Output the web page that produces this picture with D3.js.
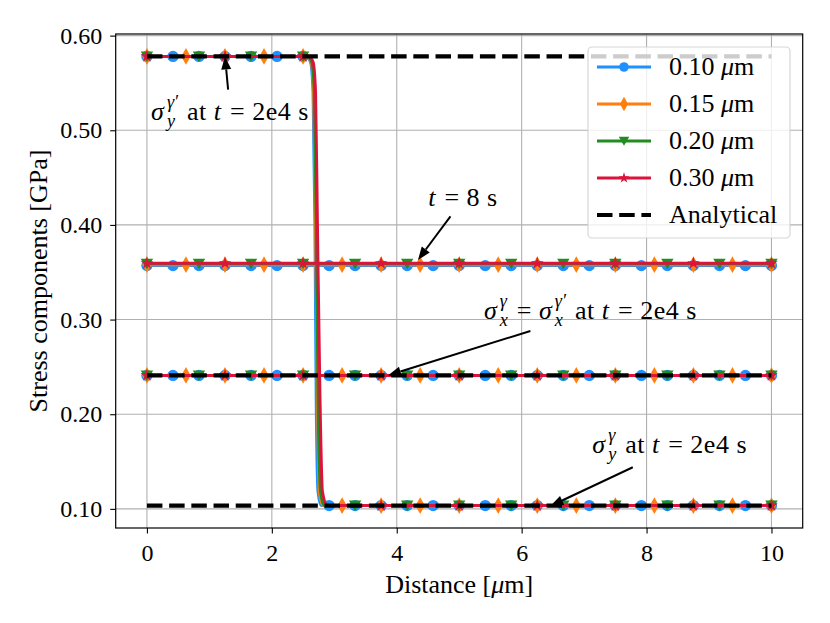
<!DOCTYPE html>
<html>
<head>
<meta charset="utf-8">
<script src="https://cdn.jsdelivr.net/npm/d3@7/dist/d3.min.js"></script>
<style>
  body { margin: 0; background: #fff; }
  svg { display: block; }
  text { font-family: "Liberation Serif", "DejaVu Serif", serif; fill: #000; }
</style>
</head>
<body>
<div id="chart"></div>
<script>
// ---- data ----
const sizes = ["0.10", "0.15", "0.20", "0.30"];
const colors = ["#1e90ff", "#ff7f0e", "#228b22", "#dc143c"];
const shapes = ["circle", "diamond", "triangle", "star"];

// marker positions (markevery on each mesh)
const markX010 = [0, 0.417, 0.833, 1.25, 1.667, 2.083, 2.5, 2.917, 3.333, 3.75, 4.167, 4.583, 5,
                  5.417, 5.833, 6.25, 6.667, 7.083, 7.5, 7.917, 8.333, 8.75, 9.167, 9.583, 10];
const markX015 = [0, 0.625, 1.25, 1.875, 2.5, 3.125, 3.75, 4.375, 5, 5.625, 6.25, 6.875, 7.5,
                  8.125, 8.75, 9.375, 10];
const markX020 = [0, 0.833, 1.667, 2.5, 3.333, 4.167, 5, 5.833, 6.667, 7.5, 8.333, 9.167, 10];
const markX030 = [0, 1.25, 2.5, 3.75, 5, 6.25, 7.5, 8.75, 10];

// sigma_y profile at t = 2e4 s (step across the interface)
const stepX010 = [0, 2.55, 2.62, 2.66, 2.69, 2.71, 2.74, 2.79, 10];
const stepX015 = [0, 2.56, 2.63, 2.67, 2.70, 2.73, 2.76, 2.82, 10];
const stepX020 = [0, 2.57, 2.64, 2.68, 2.71, 2.74, 2.78, 2.84, 10];
const stepX030 = [0, 2.59, 2.66, 2.70, 2.73, 2.77, 2.81, 2.89, 10];
const stepY    = [0.578, 0.578, 0.572, 0.54, 0.40, 0.22, 0.118, 0.1035, 0.1035];

// flat profiles
const t8Values = [0.357, 0.358, 0.359, 0.3595];   // t = 8 s
const sxValues = [0.241, 0.241, 0.241, 0.241];     // sigma_x at t = 2e4 s

// analytical solution
const analyticalY = [0.578, 0.241, 0.1035];
const analyticalX = [0, 10];

const xTicks = [0, 2, 4, 6, 8, 10];
const yTicks = [0.10, 0.20, 0.30, 0.40, 0.50, 0.60];

// ---- layout ----
const W = 830, H = 623;
const plot = { left: 115.7, right: 802.7, top: 34, bottom: 528 };
const FS = 26;

const x = d3.scaleLinear().domain([-0.5, 10.5]).range([plot.left, plot.right]);
const y = d3.scaleLinear().domain([0.0798, 0.6017]).range([plot.bottom, plot.top]);

const svg = d3.select("#chart").append("svg")
  .attr("width", W).attr("height", H);

svg.append("defs").append("clipPath").attr("id", "clip")
  .append("rect")
  .attr("x", plot.left).attr("y", plot.top)
  .attr("width", plot.right - plot.left).attr("height", plot.bottom - plot.top);

// grid
const grid = svg.append("g");
grid.selectAll(".gx").data(xTicks).enter().append("line")
  .attr("x1", d => x(d)).attr("x2", d => x(d))
  .attr("y1", plot.top).attr("y2", plot.bottom)
  .attr("stroke", "#b0b0b0").attr("stroke-width", 1.1);
grid.selectAll(".gy").data(yTicks).enter().append("line")
  .attr("y1", d => y(d)).attr("y2", d => y(d))
  .attr("x1", plot.left).attr("x2", plot.right)
  .attr("stroke", "#b0b0b0").attr("stroke-width", 1.1);

// marker path builder
function markerPath(shape, k) {
  k = k || 1;
  if (shape === "circle") return d3.symbol(d3.symbolCircle, 100 * k * k)();
  if (shape === "star") return d3.symbol(d3.symbolStar, 50 * k * k)();
  if (shape === "triangle") return `M${-6.2 * k},${-5 * k}L${6.2 * k},${-5 * k}L0,${5.6 * k}Z`;
  if (shape === "diamond") return `M0,${-8.4 * k}L${4.7 * k},0L0,${8.4 * k}L${-4.7 * k},0Z`;
}

const stepXs = [stepX010, stepX015, stepX020, stepX030];
const markXs = [markX010, markX015, markX020, markX030];

const line = d3.line().x(d => x(d[0])).y(d => y(d[1])).curve(d3.curveMonotoneX);
const data = svg.append("g").attr("clip-path", "url(#clip)");

// value of a polyline at xv (markers sit on the drawn curve)
function valueAt(curve, xv) {
  const xs = curve.map(d => d[0]);
  let k = d3.bisectRight(xs, xv) - 1;
  k = Math.max(0, Math.min(k, curve.length - 2));
  const a = curve[k], b = curve[k + 1];
  return a[1] + (b[1] - a[1]) * (xv - a[0]) / (b[0] - a[0]);
}

sizes.forEach((s, i) => {
  const g = data.append("g");
  const step = stepXs[i].map((v, k) => [v, stepY[k]]);
  const t8 = [[0, t8Values[i]], [10, t8Values[i]]];
  const sx = [[0, sxValues[i]], [10, sxValues[i]]];
  [step, t8, sx].forEach(curve => {
    g.append("path").datum(curve)
      .attr("d", line).attr("fill", "none")
      .attr("stroke", colors[i]).attr("stroke-width", 3);
  });
  const pts = [];
  markXs[i].forEach(mx => {
    pts.push([mx, valueAt(step, mx)]);
    pts.push([mx, t8Values[i]]);
    pts.push([mx, sxValues[i]]);
  });
  g.selectAll(".m").data(pts).enter().append("path")
    .attr("d", markerPath(shapes[i]))
    .attr("transform", d => `translate(${x(d[0])},${y(d[1])})`)
    .attr("fill", colors[i]);
});

// analytical dashed lines
analyticalY.forEach(v => {
  data.append("line")
    .attr("x1", x(analyticalX[0])).attr("x2", x(analyticalX[1]))
    .attr("y1", y(v)).attr("y2", y(v))
    .attr("stroke", "#000").attr("stroke-width", 4.2)
    .attr("stroke-dasharray", "15.5,6.7");
});

// axes
const xAxis = svg.append("g")
  .attr("transform", `translate(0,${plot.bottom})`)
  .call(d3.axisBottom(x).tickValues(xTicks).tickSize(5.5).tickPadding(10).tickFormat(d3.format("d")));
const yAxis = svg.append("g")
  .attr("transform", `translate(${plot.left},0)`)
  .call(d3.axisLeft(y).tickValues(yTicks).tickSize(5.5).tickPadding(8).tickFormat(d3.format(".2f")));
[xAxis, yAxis].forEach(a => {
  a.select(".domain").remove();
  a.selectAll("line").attr("stroke", "#000").attr("stroke-width", 1.1);
  a.selectAll("text").style("font-size", "24px").attr("fill", "#000");
});
svg.append("rect")
  .attr("x", plot.left).attr("y", plot.top)
  .attr("width", plot.right - plot.left).attr("height", plot.bottom - plot.top)
  .attr("fill", "none").attr("stroke", "#000").attr("stroke-width", 1.2);

svg.append("text")
  .attr("x", (plot.left + plot.right) / 2).attr("y", 593)
  .attr("text-anchor", "middle").style("font-size", FS + "px")
  .html('Distance [<tspan font-style="italic">μ</tspan>m]');
svg.append("text")
  .attr("transform", `translate(47,${(plot.top + plot.bottom) / 2}) rotate(-90)`)
  .attr("text-anchor", "middle").style("font-size", FS + "px")
  .text("Stress components [GPa]");

// ---- annotations ----
const NB = "\u00a0";
const EQ = NB + "=" + NB;
const annParts = [
  [{ s: "σ", it: true }, { sup: "γ′", sub: "y" }, { s: NB + "at" + NB }, { s: "t", it: true }, { s: EQ + "2e4" + NB + "s" }],
  [{ s: "t", it: true }, { s: EQ + "8" + NB + "s" }],
  [{ s: "σ", it: true }, { sup: "γ", sub: "x" }, { s: EQ }, { s: "σ", it: true }, { sup: "γ′", sub: "x" },
   { s: NB + "at" + NB }, { s: "t", it: true }, { s: EQ + "2e4" + NB + "s" }],
  [{ s: "σ", it: true }, { sup: "γ", sub: "y" }, { s: NB + "at" + NB }, { s: "t", it: true }, { s: EQ + "2e4" + NB + "s" }]
];
const annTextX = [1.33, 5.06, 7.10, 8.37];
const annTextY = [0.511, 0.420, 0.301, 0.159];
const arrowFromX = [1.30, 4.86, 6.14, 7.78];
const arrowFromY = [0.543, 0.409, 0.288, 0.144];
const arrowToX = [1.25, 4.34, 3.86, 6.46];
const arrowToY = [0.578, 0.363, 0.241, 0.103];

function mathLabel(g, parts, cx, by, size) {
  const grp = g.append("g");
  let cur = 0;
  parts.forEach(p => {
    if (p.sup !== undefined) {
      const a = grp.append("text").attr("x", cur + 1).attr("y", by - size * 0.45)
        .style("font-size", size * 0.7 + "px").style("font-style", "italic").text(p.sup);
      const b = grp.append("text").attr("x", cur + 1).attr("y", by + size * 0.28)
        .style("font-size", size * 0.7 + "px").style("font-style", "italic").text(p.sub);
      cur += Math.max(a.node().getComputedTextLength(), b.node().getComputedTextLength()) + 3;
    } else {
      const t = grp.append("text").attr("x", cur).attr("y", by)
        .style("font-size", size + "px").style("font-style", p.it ? "italic" : "normal")
        .style("letter-spacing", "0.5px").text(p.s);
      cur += t.node().getComputedTextLength() + (p.it ? 1.5 : 0);
    }
  });
  grp.attr("transform", `translate(${cx - cur / 2},0)`);
}

const ann = svg.append("g");
annParts.forEach((parts, i) => {
  mathLabel(ann, parts, x(annTextX[i]), y(annTextY[i]), FS);
  const x1 = x(arrowFromX[i]), y1 = y(arrowFromY[i]);
  const x2 = x(arrowToX[i]), y2 = y(arrowToY[i]);
  const ang = Math.atan2(y2 - y1, x2 - x1);
  const hl = 13, hw = 5;
  const bx = x2 - hl * Math.cos(ang), by = y2 - hl * Math.sin(ang);
  ann.append("line")
    .attr("x1", x1).attr("y1", y1).attr("x2", bx).attr("y2", by)
    .attr("stroke", "#000").attr("stroke-width", 2);
  ann.append("path")
    .attr("d", `M${x2},${y2}L${bx - hw * Math.sin(ang)},${by + hw * Math.cos(ang)}L${bx + hw * Math.sin(ang)},${by - hw * Math.cos(ang)}Z`)
    .attr("fill", "#000");
});

// ---- legend ----
const leg = svg.append("g");
leg.append("rect")
  .attr("x", 588).attr("y", 47).attr("width", 202).attr("height", 191).attr("rx", 4)
  .attr("fill", "#fff").attr("fill-opacity", 0.8)
  .attr("stroke", "#cccccc").attr("stroke-opacity", 0.8).attr("stroke-width", 1.2);
const legY = [67, 104, 141, 178, 215];
sizes.forEach((s, i) => {
  leg.append("line").attr("x1", 597).attr("x2", 651).attr("y1", legY[i]).attr("y2", legY[i])
    .attr("stroke", colors[i]).attr("stroke-width", 3);
  leg.append("path").attr("d", markerPath(shapes[i], 0.85))
    .attr("transform", `translate(624,${legY[i]})`).attr("fill", colors[i]);
  leg.append("text").attr("x", 669).attr("y", legY[i] + 8).style("font-size", FS + "px")
    .html(`${s} <tspan font-style="italic">μ</tspan>m`);
});
leg.append("line").attr("x1", 597).attr("x2", 651).attr("y1", legY[4]).attr("y2", legY[4])
  .attr("stroke", "#000").attr("stroke-width", 4.2).attr("stroke-dasharray", "15.5,6.7");
leg.append("text").attr("x", 669).attr("y", legY[4] + 8).style("font-size", FS + "px").text("Analytical");
</script>
</body>
</html>
